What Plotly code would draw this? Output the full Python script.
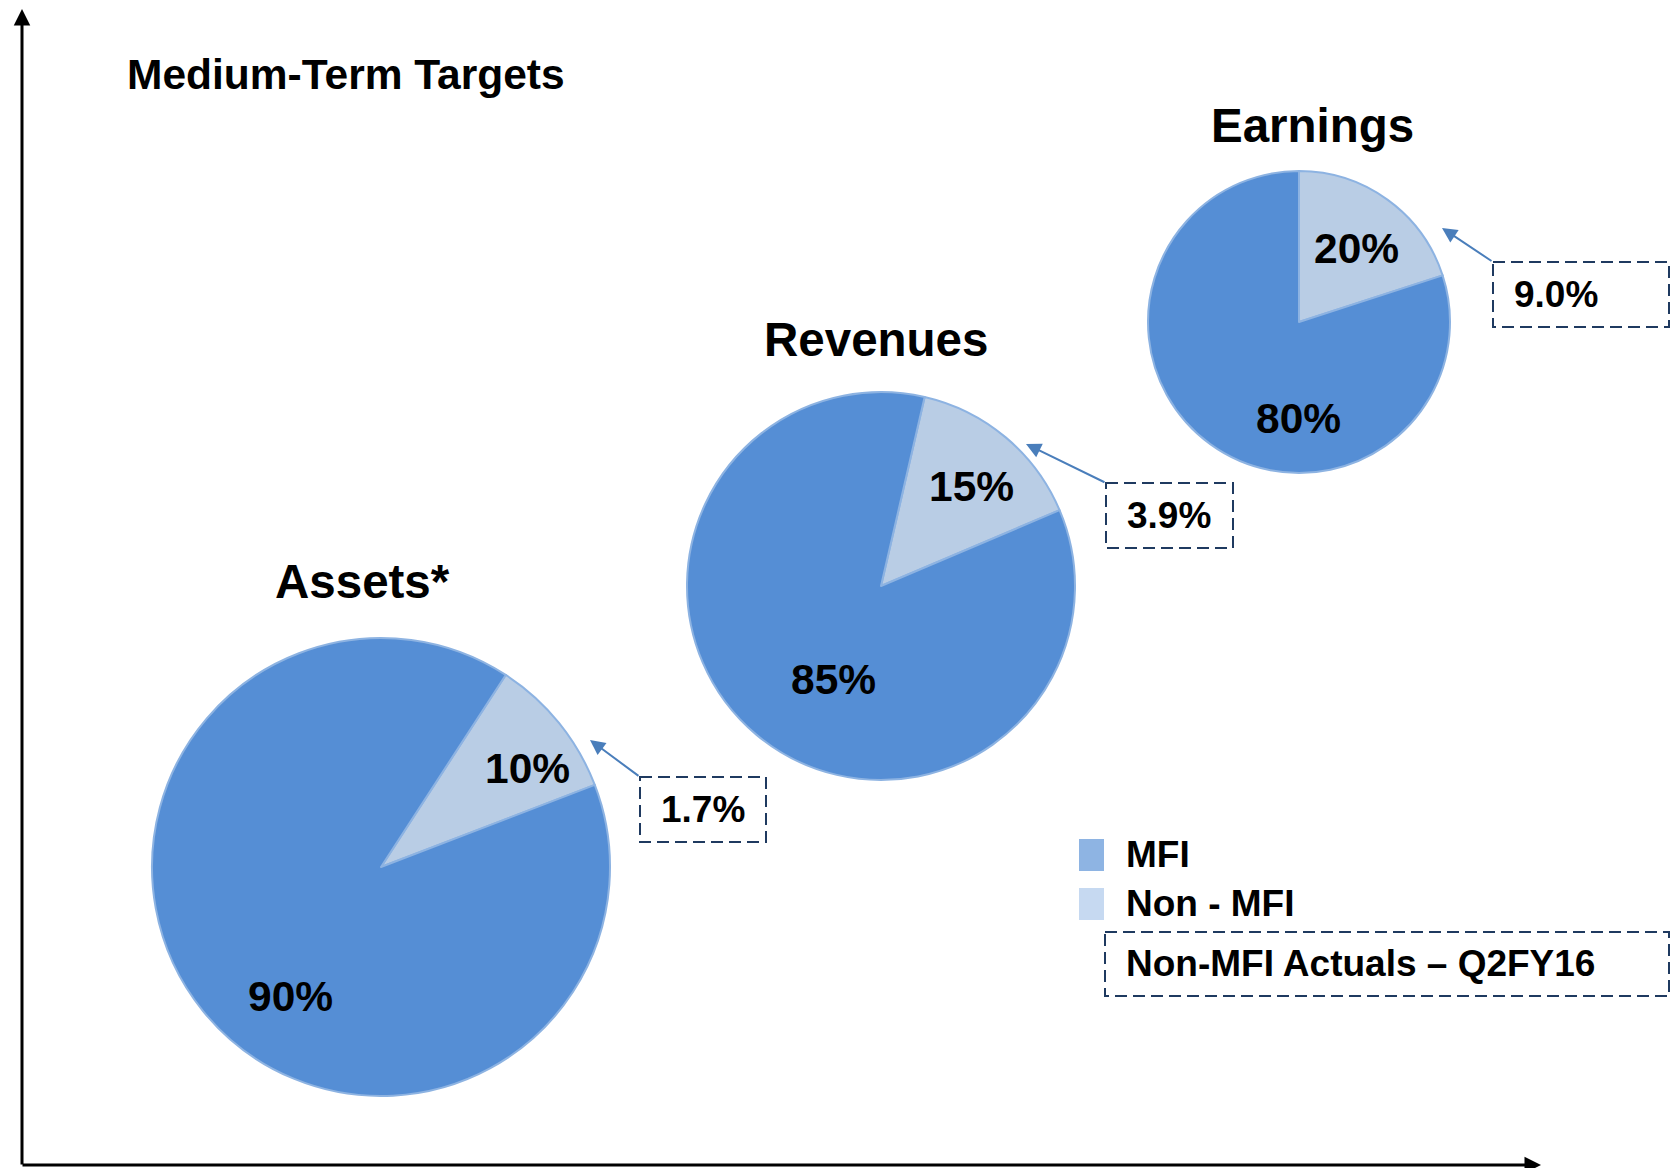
import plotly.graph_objects as go

# ---------------- data ----------------
categories = ["Assets*", "Revenues", "Earnings"]
mfi_share = [90, 85, 80]            # % MFI (medium-term target)
non_mfi_share = [10, 15, 20]        # % Non-MFI (medium-term target)
non_mfi_actual = [1.7, 3.9, 9.0]    # % Non-MFI actuals Q2FY16
segment_labels = ["Non - MFI", "MFI"]
chart_title = "Medium-Term Targets"
legend_actual_label = "Non-MFI Actuals \u2013 Q2FY16"

# ---------------- style / layout ----------------
W, H = 1672, 1168
FONT = "Liberation Sans, Arial, sans-serif"
MFI_COLOR = "#558ED5"
NON_COLOR = "#B9CDE5"
EDGE_COLOR = "#8DB3E2"
SW_MFI = "#8EB4E3"
SW_NON = "#C6D9F1"
BOX_COLOR = "#1F3A60"
ARROW_COLOR = "#4A7EBB"
BOX_DASH = "12px,6px"

# pie centre (px), radius (px), start angle (deg clockwise from 12 o'clock)
pie_geom = [
    dict(cx=381, cy=867, r=229, rot=33),
    dict(cx=881, cy=586, r=194, rot=13),
    dict(cx=1299, cy=322, r=151, rot=0),
]
title_pos = [(362, 581), (876, 339), (1312, 125)]
mfi_label_pos = [(290, 996), (833, 679), (1298, 418)]
non_label_pos = [(527, 768), (971, 486), (1356, 248)]
callout_box = [(640, 777, 766, 842), (1106, 483, 1233, 548), (1493, 262, 1669, 327)]
arrow_tip = [(590, 740), (1026, 444), (1442, 228)]

fig = go.Figure()

# invisible trace so a pixel-like cartesian frame exists for shapes/annotations
fig.add_trace(go.Scatter(x=[0, W], y=[0, H], mode="none", showlegend=False,
                         hoverinfo="skip"))

annotations = []
shapes = []

for i, cat in enumerate(categories):
    g = pie_geom[i]
    dom_x = [(g["cx"] - g["r"]) / W, (g["cx"] + g["r"]) / W]
    dom_y = [1 - (g["cy"] + g["r"]) / H, 1 - (g["cy"] - g["r"]) / H]
    fig.add_trace(go.Pie(
        labels=segment_labels,
        values=[non_mfi_share[i], mfi_share[i]],
        sort=False,
        direction="clockwise",
        rotation=g["rot"],
        marker=dict(colors=[NON_COLOR, MFI_COLOR],
                    line=dict(color=EDGE_COLOR, width=2)),
        textinfo="none",
        hoverinfo="label+value",
        showlegend=False,
        domain=dict(x=dom_x, y=dom_y),
    ))
    # pie title
    tx, ty = title_pos[i]
    annotations.append(dict(x=tx, y=ty, xref="x", yref="y", text=f"<b>{cat}</b>",
                            showarrow=False, xanchor="center", yanchor="middle",
                            font=dict(family=FONT, size=47.5, color="black")))
    # slice labels
    mx, my = mfi_label_pos[i]
    annotations.append(dict(x=mx, y=my, xref="x", yref="y", text=f"<b>{mfi_share[i]}%</b>",
                            showarrow=False, xanchor="center", yanchor="middle",
                            font=dict(family=FONT, size=42.5, color="black")))
    nx, ny = non_label_pos[i]
    annotations.append(dict(x=nx, y=ny, xref="x", yref="y", text=f"<b>{non_mfi_share[i]}%</b>",
                            showarrow=False, xanchor="center", yanchor="middle",
                            font=dict(family=FONT, size=42.5, color="black")))
    # callout box with actual value
    x0, y0, x1, y1 = callout_box[i]
    shapes.append(dict(type="rect", xref="x", yref="y", x0=x0, y0=y0, x1=x1, y1=y1,
                       line=dict(color=BOX_COLOR, width=2, dash=BOX_DASH),
                       fillcolor="rgba(0,0,0,0)"))
    annotations.append(dict(x=x0 + 19, y=(y0 + y1) / 2, xref="x", yref="y",
                            text=f"<b>{non_mfi_actual[i]:.1f}%</b>",
                            showarrow=False, xanchor="left", yanchor="middle",
                            font=dict(family=FONT, size=37, color="black")))
    # arrow from box corner to the pie
    ax_, ay_ = arrow_tip[i]
    annotations.append(dict(x=ax_, y=ay_, xref="x", yref="y", ax=x0, ay=y0,
                            axref="x", ayref="y", text="", showarrow=True,
                            arrowhead=2, arrowsize=1.5, arrowwidth=2,
                            arrowcolor=ARROW_COLOR, standoff=0))

# chart title
annotations.append(dict(x=125, y=74, xref="x", yref="y", text=f"<b>{chart_title}</b>",
                        showarrow=False, xanchor="left", yanchor="middle",
                        font=dict(family=FONT, size=42.5, color="black")))

# axes (arrows)
annotations.append(dict(x=22, y=9, xref="x", yref="y", ax=22, ay=1166,
                        axref="x", ayref="y", text="", showarrow=True,
                        arrowhead=2, arrowsize=1.1, arrowwidth=3,
                        arrowcolor="black", standoff=0))
annotations.append(dict(x=1541, y=1165, xref="x", yref="y", ax=21, ay=1165,
                        axref="x", ayref="y", text="", showarrow=True,
                        arrowhead=2, arrowsize=1.1, arrowwidth=3,
                        arrowcolor="black", standoff=0))

# custom legend
legend_items = [(SW_MFI, "MFI", 839, 871), (SW_NON, segment_labels[0], 888, 920)]
for color, txt, y0, y1 in legend_items:
    shapes.append(dict(type="rect", xref="x", yref="y", x0=1079, x1=1104, y0=y0, y1=y1,
                       fillcolor=color, line=dict(width=0)))
    annotations.append(dict(x=1124, y=(y0 + y1) / 2 - 1, xref="x", yref="y",
                            text=f"<b>{txt}</b>", showarrow=False,
                            xanchor="left", yanchor="middle",
                            font=dict(family=FONT, size=37, color="black")))
shapes.append(dict(type="rect", xref="x", yref="y", x0=1105, y0=932, x1=1669, y1=996,
                   line=dict(color=BOX_COLOR, width=2, dash=BOX_DASH),
                   fillcolor="rgba(0,0,0,0)"))
annotations.append(dict(x=1124, y=963, xref="x", yref="y",
                        text=f"<b>{legend_actual_label}</b>", showarrow=False,
                        xanchor="left", yanchor="middle",
                        font=dict(family=FONT, size=37, color="black")))

fig.update_layout(
    width=W, height=H,
    margin=dict(l=0, r=0, t=0, b=0),
    paper_bgcolor="white", plot_bgcolor="white",
    xaxis=dict(range=[0, W], visible=False, fixedrange=True),
    yaxis=dict(range=[H, 0], visible=False, fixedrange=True),
    annotations=annotations,
    shapes=shapes,
    showlegend=False,
)

# remove the default page margin so the figure fills the window exactly
fig.write_html("out.html",
               config={"displayModeBar": False, "staticPlot": True},
               post_script="document.body.style.margin='0';"
                           "document.body.style.overflow='hidden';")
